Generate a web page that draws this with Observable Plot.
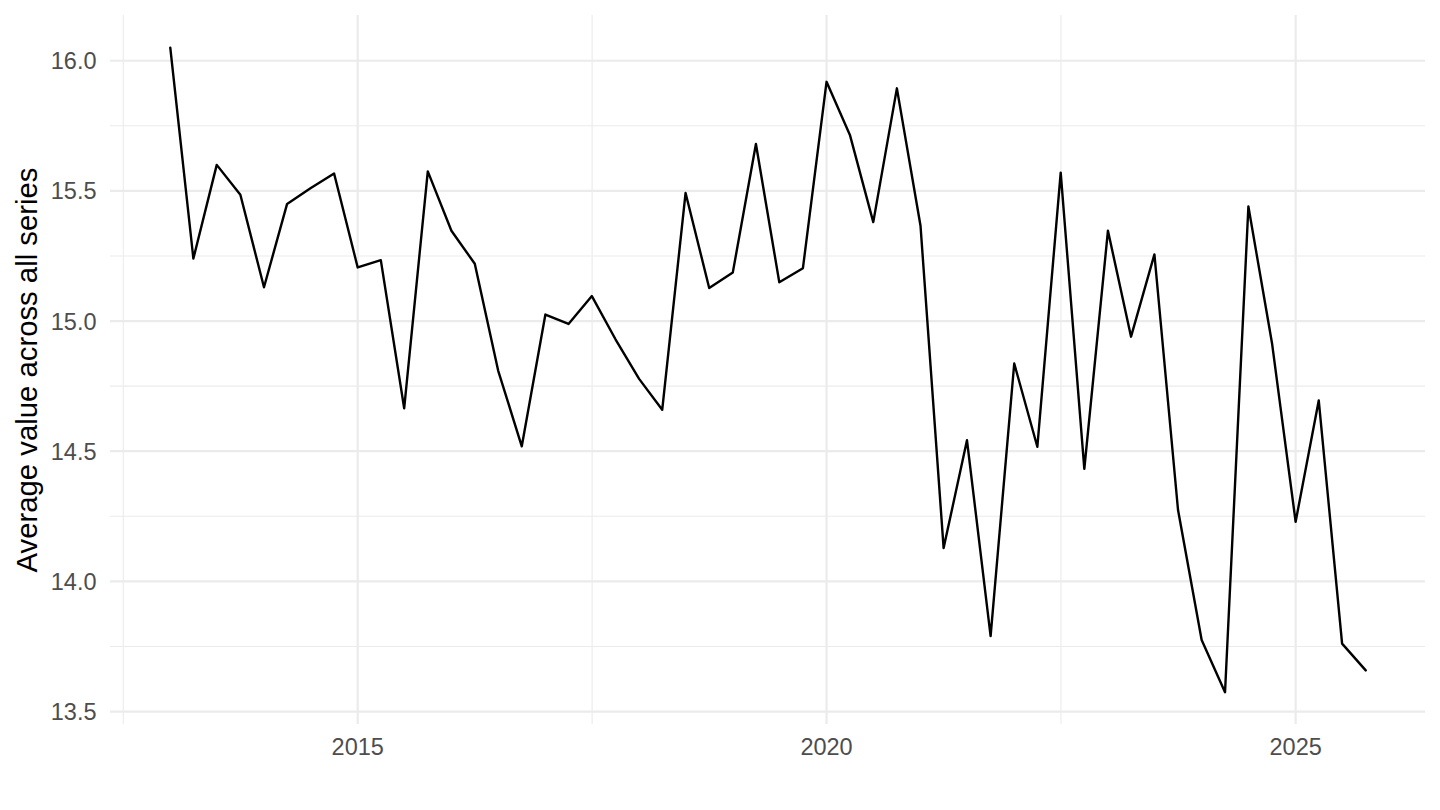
<!DOCTYPE html>
<html>
<head>
<meta charset="utf-8">
<script src="https://cdn.jsdelivr.net/npm/d3@7"></script>
<script src="https://cdn.jsdelivr.net/npm/@observablehq/plot@0.6"></script>
<style>
  html, body { margin: 0; padding: 0; background: #ffffff; }
  #chart { width: 1440px; height: 810px; }
</style>
</head>
<body>
<div id="chart"></div>
<script>
// Quarterly observation dates
const dates = [
  "2013-01-01","2013-04-01","2013-07-01","2013-10-01",
  "2014-01-01","2014-04-01","2014-07-01","2014-10-01",
  "2015-01-01","2015-04-01","2015-07-01","2015-10-01",
  "2016-01-01","2016-04-01","2016-07-01","2016-10-01",
  "2017-01-01","2017-04-01","2017-07-01","2017-10-01",
  "2018-01-01","2018-04-01","2018-07-01","2018-10-01",
  "2019-01-01","2019-04-01","2019-07-01","2019-10-01",
  "2020-01-01","2020-04-01","2020-07-01","2020-10-01",
  "2021-01-01","2021-04-01","2021-07-01","2021-10-01",
  "2022-01-01","2022-04-01","2022-07-01","2022-10-01",
  "2023-01-01","2023-04-01","2023-07-01","2023-10-01",
  "2024-01-01","2024-04-01","2024-07-01","2024-10-01",
  "2025-01-01","2025-04-01","2025-07-01","2025-10-01"
];

// Average value across all series
const values = [
  16.05, 15.24, 15.60, 15.485,
  15.13, 15.45, 15.51, 15.567,
  15.206, 15.234, 14.665, 15.575,
  15.347, 15.22, 14.81, 14.519,
  15.025, 14.989, 15.096, 14.93,
  14.778, 14.659, 15.492, 15.127,
  15.187, 15.68, 15.149, 15.203,
  15.919, 15.715, 15.38, 15.894,
  15.366, 14.128, 14.542, 13.79,
  14.837, 14.517, 15.57, 14.432,
  15.347, 14.94, 15.256, 14.274,
  13.775, 13.574, 15.44, 14.915,
  14.229, 14.695, 13.761, 13.658
];

// Axis ticks
const xMajorTicks = ["2015-01-01", "2020-01-01", "2025-01-01"];
const xMinorTicks = ["2012-07-02", "2017-07-02", "2022-07-02"];
const yMajorTicks = [13.5, 14.0, 14.5, 15.0, 15.5, 16.0];
const yMinorTicks = [13.75, 14.25, 14.75, 15.25, 15.75];

const yTitle = "Average value across all series";

const parse = d3.utcParse("%Y-%m-%d");
const data = dates.map((d, i) => ({ date: parse(d), value: values[i] }));

// ggplot-like 5% expansion of the data range
const [t0, t1] = d3.extent(data, d => +d.date);
const xDomain = [new Date(t0 - 0.05 * (t1 - t0)), new Date(t1 + 0.05 * (t1 - t0))];
const [v0, v1] = d3.extent(values);
const yDomain = [v0 - 0.05 * (v1 - v0), v1 + 0.05 * (v1 - v0)];

const grid = "#ebebeb";

const chart = Plot.plot({
  width: 1440,
  height: 810,
  marginLeft: 110,
  marginRight: 15,
  marginTop: 15,
  marginBottom: 86,
  style: { fontFamily: "'Liberation Sans', Arial, sans-serif", background: "#ffffff" },
  x: { type: "utc", domain: xDomain },
  y: { domain: yDomain },
  marks: [
    Plot.gridX(xMinorTicks.map(parse), { stroke: grid, strokeOpacity: 1, strokeWidth: 1.1 }),
    Plot.gridY(yMinorTicks, { stroke: grid, strokeOpacity: 1, strokeWidth: 1.1 }),
    Plot.gridX(xMajorTicks.map(parse), { stroke: grid, strokeOpacity: 1, strokeWidth: 2.2 }),
    Plot.gridY(yMajorTicks, { stroke: grid, strokeOpacity: 1, strokeWidth: 2.2 }),
    Plot.axisY(yMajorTicks, {
      tickSize: 0, tickPadding: 14, fontSize: 23.5, fill: "#4d4d4d",
      tickFormat: d3.format(".1f"), label: null, dy: 1
    }),
    Plot.axisX(xMajorTicks.map(parse), {
      tickSize: 0, tickPadding: 14, fontSize: 23.5, fill: "#4d4d4d",
      tickFormat: d3.utcFormat("%Y"), label: null
    }),
    Plot.text([yTitle], {
      frameAnchor: "left", rotate: -90, dx: -83, fontSize: 29.3, fill: "#000000",
      textAnchor: "middle"
    }),
    Plot.line(data, { x: "date", y: "value", stroke: "#000000", strokeWidth: 2.4 })
  ]
});

document.getElementById("chart").appendChild(chart);
</script>
</body>
</html>
